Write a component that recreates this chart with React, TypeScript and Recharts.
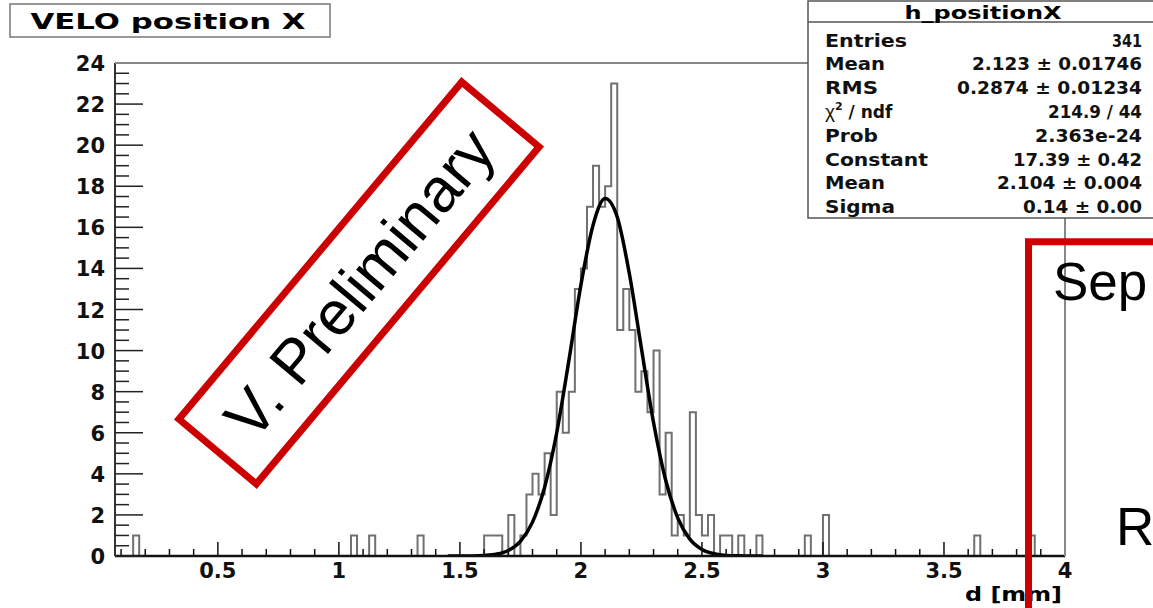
import { ComposedChart, Line, XAxis, YAxis } from "recharts";

const RED = "#cc0000";
const BOLD = "'DejaVu Sans', sans-serif";
const ARIAL = "'Liberation Sans', Arial, sans-serif";

// histogram h_positionX: left edge of every non-empty bin (bin width 0.025 mm) and its entries
const BIN = 0.025;
const binStart = [
  0.15, 1.05, 1.125, 1.325,
  1.6, 1.625, 1.65, 1.7,
  1.75, 1.775, 1.8, 1.825, 1.85, 1.875, 1.9, 1.925, 1.95,
  1.975, 2.0, 2.025, 2.05, 2.075, 2.1, 2.125, 2.15, 2.175, 2.2, 2.225, 2.25,
  2.275, 2.3, 2.325, 2.35, 2.375, 2.4, 2.425, 2.45, 2.475, 2.5, 2.525,
  2.575, 2.6, 2.65, 2.725, 2.925, 3.0, 3.625, 3.85,
];
const binCount = [
  1, 1, 1, 1,
  1, 1, 1, 2,
  1, 3, 4, 3, 5, 2, 8, 6, 8,
  13, 14, 17, 19, 17, 18, 23, 11, 13, 11, 8, 9,
  7, 10, 3, 6, 1, 2, 1, 7, 2, 1, 2,
  1, 1, 1, 1, 1, 2, 1, 1,
];

// gaussian fit curve
const fitX = [1.45, 1.5, 1.55, 1.6, 1.65, 1.7, 1.75, 1.8, 1.85, 1.9, 1.95, 2.0, 2.05, 2.1, 2.15, 2.2, 2.25, 2.3, 2.35, 2.4, 2.45, 2.5, 2.55, 2.6, 2.65, 2.7, 2.75];
const fitY = [0, 0, 0.005, 0.03, 0.09, 0.27, 0.71, 1.65, 3.35, 6.0, 9.5, 13.2, 16.1, 17.4, 16.5, 13.75, 10.1, 6.5, 3.7, 1.86, 0.82, 0.32, 0.11, 0.03, 0.01, 0, 0];

const X_MIN = 0.075;
const X_MAX = 4;
const yLabels = [0, 2, 4, 6, 8, 10, 12, 14, 16, 18, 20, 22, 24];

const statLabels = ["Entries", "Mean", "RMS", "chi", "Prob", "Constant", "Mean", "Sigma"];
const statValues = ["341", "2.123 ± 0.01746", "0.2874 ± 0.01234", "214.9 / 44", "2.363e-24", "17.39 ± 0.42", "2.104 ± 0.004", "0.14 ± 0.00"];
const labelWidths = [82, 60, 53, 0, 53, 103, 60, 70];
const valueWidths = [30, 170, 185, 94, 107, 129, 145, 119];

// step outline for the histogram
const histData: { x: number; count: number }[] = [{ x: X_MIN, count: 0 }];
binStart.forEach((s, i) => {
  histData.push({ x: s, count: binCount[i] });
  const end = s + BIN;
  const next = binStart[i + 1];
  if (next === undefined || Math.abs(next - end) > 1e-6) histData.push({ x: +end.toFixed(3), count: 0 });
});
histData.push({ x: X_MAX, count: 0 });

const fitData = fitX.map((x, i) => ({ x, fit: fitY[i] }));

const xTicks = Array.from({ length: 40 }, (_, i) => +((i + 1) * 0.1).toFixed(1));
const yTicks = yLabels.flatMap((v) => (v === 24 ? [v] : [v, v + 0.5, v + 1, v + 1.5]));

function XTick({ x, y, payload }: any) {
  const v = payload.value;
  const major = Math.abs(v * 2 - Math.round(v * 2)) < 1e-6;
  return (
    <g>
      <line x1={x} x2={x} y1={y} y2={y - (major ? 14 : 7)} stroke="#111" strokeWidth={1.5} />
      {major && (
        <text x={x} y={y + 22} textAnchor="middle" fontFamily={BOLD} fontWeight="bold" fontSize={21} fill="#111">
          {v}
        </text>
      )}
    </g>
  );
}

function YTick({ x, y, payload }: any) {
  const v = payload.value;
  const major = v % 2 === 0;
  return (
    <g>
      <line x1={x} x2={x + (major ? 28 : 14)} y1={y} y2={y} stroke="#222" strokeWidth={1.5} />
      {major && (
        <text x={x - 10} y={y + 8} textAnchor="end" fontFamily={BOLD} fontWeight="bold" fontSize={21} fill="#111">
          {v}
        </text>
      )}
    </g>
  );
}

function Overlay() {
  return (
    <svg width={1153} height={608} style={{ position: "absolute", left: 0, top: 0, pointerEvents: "none" }}>
      {/* frame top and right */}
      <line x1={115} x2={1065} y1={63} y2={63} stroke="#888" strokeWidth={2} />
      <line x1={1065} x2={1065} y1={63} y2={556} stroke="#888" strokeWidth={2} />

      {/* title */}
      <rect x={10} y={4} width={320} height={33} fill="#fff" stroke="#777" strokeWidth={1.5} />
      <text x={168} y={28.5} textAnchor="middle" fontFamily={BOLD} fontWeight="bold" fontSize={21} textLength={275} lengthAdjust="spacingAndGlyphs">
        VELO position X
      </text>

      {/* stats box */}
      <rect x={808} y={1} width={360} height={217} fill="#fff" stroke="#555" strokeWidth={1.5} />
      <line x1={808} x2={1153} y1={22} y2={22} stroke="#555" strokeWidth={1.5} />
      <text x={983} y={19} textAnchor="middle" fontFamily={BOLD} fontWeight="bold" fontSize={17} textLength={157} lengthAdjust="spacingAndGlyphs">
        h_positionX
      </text>
      {statLabels.map((lab, i) => {
        const y = 46.5 + i * 23.8;
        return (
          <g key={i} fontFamily={BOLD} fontWeight="bold" fontSize={17} fill="#111">
            {lab === "chi" ? (
              <text x={825} y={y}>
                <tspan fontWeight="normal" fontSize={19} fontFamily={ARIAL}>χ</tspan>
                <tspan fontSize={11} dy={-8}>2</tspan>
                <tspan dy={8}> / ndf</tspan>
              </text>
            ) : (
              <text x={825} y={y} textLength={labelWidths[i]} lengthAdjust="spacingAndGlyphs">
                {lab}
              </text>
            )}
            <text x={1142} y={y} textAnchor="end" textLength={valueWidths[i]} lengthAdjust="spacingAndGlyphs">
              {statValues[i]}
            </text>
          </g>
        );
      })}

      {/* axis title */}
      <text x={1062} y={601} textAnchor="end" fontFamily={BOLD} fontWeight="bold" fontSize={19} textLength={97} lengthAdjust="spacingAndGlyphs">
        d [mm]
      </text>

      {/* slide annotations */}
      <g transform="translate(359,283) rotate(-50)">
        <rect x={-220} y={-50.5} width={440} height={101} fill="none" stroke={RED} strokeWidth={7} />
        <text x={0} y={22} textAnchor="middle" fontFamily={ARIAL} fontSize={62} fill="#000">
          V. Preliminary
        </text>
      </g>
      <path d="M1028.5 612 L1028.5 241.7 L1160 241.7" fill="none" stroke={RED} strokeWidth={7} />
      <text x={1053} y={300} fontFamily={ARIAL} fontSize={53} fill="#000">Sep</text>
      <text x={1116} y={545} fontFamily={ARIAL} fontSize={53} fill="#000">R</text>
    </svg>
  );
}

export default function App() {
  return (
    <div style={{ position: "absolute", left: 0, top: 0, width: 1153, height: 608, background: "#fff" }}>
      <ComposedChart width={1153} height={608} margin={{ top: 63, right: 88, bottom: 22, left: 55 }}>
        <XAxis
          type="number"
          dataKey="x"
          domain={[X_MIN, X_MAX]}
          allowDataOverflow
          ticks={xTicks}
          interval={0}
          tickSize={0}
          tickMargin={0}
          tickLine={false}
          tick={(p: any) => <XTick {...p} />}
          axisLine={{ stroke: "#111", strokeWidth: 2.5 }}
          height={30}
        />
        <YAxis
          type="number"
          domain={[0, 24]}
          allowDataOverflow
          ticks={yTicks}
          interval={0}
          tickSize={0}
          tickMargin={0}
          tickLine={false}
          tick={(p: any) => <YTick {...p} />}
          axisLine={{ stroke: "#333", strokeWidth: 2 }}
          width={60}
        />
        <Line
          data={histData}
          dataKey="count"
          type="stepAfter"
          stroke="#707070"
          strokeWidth={2}
          dot={false}
          activeDot={false}
          isAnimationActive={false}
        />
        <Line
          data={fitData}
          dataKey="fit"
          type="monotone"
          stroke="#000"
          strokeWidth={3.5}
          dot={false}
          activeDot={false}
          isAnimationActive={false}
        />
      </ComposedChart>
      <Overlay />
    </div>
  );
}
